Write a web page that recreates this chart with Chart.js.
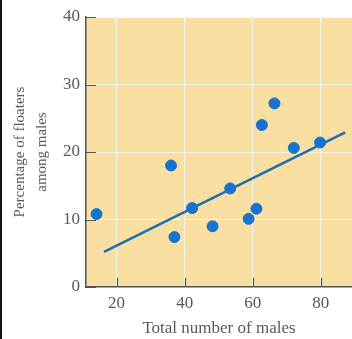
<!DOCTYPE html>
<html>
<head>
<meta charset="utf-8">
<script src="https://cdn.jsdelivr.net/npm/chart.js@4/dist/chart.umd.min.js"></script>
<style>
  html, body { margin: 0; padding: 0; background: #fff; }
  #wrap { position: relative; width: 352px; height: 339px; }
  #edge { position: absolute; left: 0; top: 0; width: 2px; height: 339px; background: #111; }
</style>
</head>
<body>
<div id="wrap"><canvas id="c" width="352" height="339"></canvas><div id="edge"></div></div>
<script>
const totalMales = [14.1, 36.0, 37.0, 42.2, 48.2, 53.4, 58.8, 61.1, 62.7, 66.4, 72.1, 79.8];
const floaterPct = [10.8, 18.0, 7.4, 11.7, 9.0, 14.6, 10.1, 11.6, 24.0, 27.2, 20.6, 21.4];
const fitX = [16.3, 87.2];
const fitY = [5.2, 22.9];
const xTicks = [20, 40, 60, 80];
const yTicks = [0, 10, 20, 30, 40];

const serif = "'Liberation Serif', 'DejaVu Serif', serif";
const textColor = '#5a5a5a';

const bgPlugin = {
  id: 'bg',
  beforeDraw(chart) {
    const {ctx, chartArea: a} = chart;
    ctx.save();
    ctx.fillStyle = '#fadfa2';
    ctx.fillRect(a.left, a.top, a.right - a.left, a.bottom - a.top);
    ctx.restore();
  },
  afterDraw(chart) {
    const {ctx, chartArea: a, scales} = chart;
    ctx.save();
    ctx.strokeStyle = '#555';
    ctx.lineWidth = 1.2;
    ctx.beginPath();
    yTicks.forEach(v => {
      const y = Math.round(scales.y.getPixelForValue(v)) + 0.5;
      ctx.moveTo(a.left, y); ctx.lineTo(a.left + 10, y);
    });
    xTicks.forEach(v => {
      const x = Math.round(scales.x.getPixelForValue(v)) + 0.5;
      ctx.moveTo(x, a.bottom); ctx.lineTo(x, a.bottom - 9);
    });
    ctx.stroke();
    ctx.restore();
  }
};

new Chart(document.getElementById('c'), {
  type: 'scatter',
  data: {
    datasets: [
      {
        type: 'line',
        data: fitX.map((x, i) => ({x, y: fitY[i]})),
        borderColor: '#1b6fb2',
        borderWidth: 2.5,
        pointRadius: 0,
        fill: false,
        order: 2
      },
      {
        data: totalMales.map((x, i) => ({x, y: floaterPct[i]})),
        backgroundColor: '#1674cf',
        borderColor: '#1674cf',
        pointRadius: 5.5,
        pointHoverRadius: 5.5,
        order: 1
      }
    ]
  },
  options: {
    responsive: false,
    animation: false,
    devicePixelRatio: 1,
    layout: { autoPadding: false, padding: { top: 17, right: 0, left: 0, bottom: 0 } },
    plugins: { legend: { display: false }, tooltip: { enabled: false } },
    scales: {
      x: {
        type: 'linear',
        min: 11,
        max: 89.2,
        afterBuildTicks(s) { s.ticks = xTicks.map(v => ({value: v})); },
        afterFit(s) { s.height = 52; s.paddingLeft = 0; s.paddingRight = 0; },
        grid: { color: 'rgba(255,255,255,0.75)', lineWidth: 1, drawTicks: false },
        border: { color: '#555', width: 1.5 },
        ticks: { color: textColor, font: { family: serif, size: 17 }, padding: 6 },
        title: { display: true, text: 'Total number of males', color: textColor, font: { family: serif, size: 17 }, padding: { top: 2, bottom: 0 } }
      },
      y: {
        type: 'linear',
        min: 0,
        max: 40,
        afterBuildTicks(s) { s.ticks = yTicks.map(v => ({value: v})); },
        afterFit(s) { s.width = 86; },
        grid: { color: 'rgba(255,255,255,0.75)', lineWidth: 1, drawTicks: false },
        border: { color: '#555', width: 1.5 },
        ticks: { color: textColor, font: { family: serif, size: 17 }, padding: 6 },
        title: { display: true, text: ['Percentage of floaters', 'among males'], color: textColor, font: { family: serif, size: 15, lineHeight: 1.45 }, padding: { top: 9, bottom: 0 } }
      }
    }
  },
  plugins: [bgPlugin]
});
</script>
</body>
</html>
